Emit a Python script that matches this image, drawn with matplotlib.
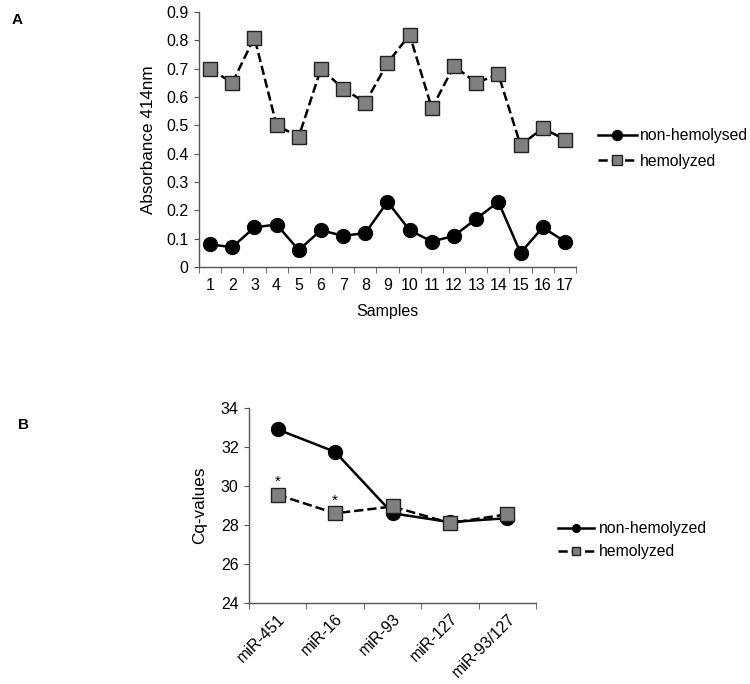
import matplotlib
matplotlib.use("Agg")
import matplotlib.pyplot as plt

plt.rcParams['font.family'] = ['Liberation Sans', 'DejaVu Sans']

samples = list(range(1, 18))
non_hemolysed = [0.08, 0.07, 0.14, 0.15, 0.06, 0.13, 0.11, 0.12, 0.23, 0.13, 0.09, 0.11, 0.17, 0.23, 0.05, 0.14, 0.09]
hemolyzed_abs = [0.70, 0.65, 0.81, 0.50, 0.46, 0.70, 0.63, 0.58, 0.72, 0.82, 0.56, 0.71, 0.65, 0.68, 0.43, 0.49, 0.45]

mirnas = ["miR-451", "miR-16", "miR-93", "miR-127", "miR-93/127"]
cq_non = [32.9, 31.75, 28.6, 28.15, 28.35]
cq_hem = [29.55, 28.6, 28.95, 28.1, 28.55]
sig_flags = [True, True, False, False, False]

fig = plt.figure(figsize=(7.5, 6.84), dpi=100)

TICK_FS = 11.5

def style_axes(ax):
    for s in ['top', 'right']:
        ax.spines[s].set_visible(False)
    for s in ['left', 'bottom']:
        ax.spines[s].set_color('#555555')
        ax.spines[s].set_linewidth(1.0)
    ax.tick_params(axis='y', direction='out', length=3.5, color='#555555', labelsize=TICK_FS, pad=4)
    ax.tick_params(axis='x', which='minor', direction='out', length=4, color='#555555')
    ax.tick_params(axis='x', which='major', length=0, labelsize=TICK_FS)

# Panel A
ax1 = fig.add_axes([0.2653, 0.6096, 0.5027, 0.3728])
x = samples
ax1.plot(x, non_hemolysed, '-', color='black', lw=1.8, marker='o', ms=10,
         mfc='black', mec='black', label='non-hemolysed')
ax1.plot(x, hemolyzed_abs, '--', color='black', lw=1.8, marker='s', ms=10,
         mfc='#808080', mec='#222222', mew=1.0, label='hemolyzed')
ax1.set_xlim(0.5, 17.5)
ax1.set_ylim(0, 0.9)
ax1.set_yticks([0, 0.1, 0.2, 0.3, 0.4, 0.5, 0.6, 0.7, 0.8, 0.9])
ax1.set_yticklabels(['0', '0.1', '0.2', '0.3', '0.4', '0.5', '0.6', '0.7', '0.8', '0.9'])
ax1.set_xticks(x)
ax1.set_xticklabels([str(v) for v in x])
ax1.set_xticks([v + 0.5 for v in range(0, 18)], minor=True)
style_axes(ax1)
ax1.tick_params(axis='x', which='major', pad=8)
ax1.set_xlabel('Samples', fontsize=11.5, labelpad=8)
ax1.set_ylabel('Absorbance 414nm', fontsize=12.3, labelpad=7)
ax1.legend(loc='center left', bbox_to_anchor=(0.797, 0.783), bbox_transform=fig.transFigure,
           frameon=False, fontsize=11.3, handlelength=2.5, handletextpad=0.2,
           borderaxespad=0, borderpad=0, labelspacing=0.65, markerscale=0.72)
fig.text(0.016, 0.971, 'A', fontsize=11, fontweight='bold', va='center')

# Panel B
ax2 = fig.add_axes([0.332, 0.1184, 0.3827, 0.2851])
xb = list(range(len(mirnas)))
ax2.plot(xb, cq_non, '-', color='black', lw=1.8, marker='o', ms=10,
         mfc='black', mec='black', label='non-hemolyzed')
ax2.plot(xb, cq_hem, '--', color='black', lw=1.8, marker='s', ms=10,
         mfc='#808080', mec='#222222', mew=1.0, label='hemolyzed')
for xi, yv, f in zip(xb, cq_hem, sig_flags):
    if f:
        ax2.annotate('*', (xi, yv), xytext=(0, 4), textcoords='offset points',
                     ha='center', va='bottom', fontsize=11)
ax2.set_xlim(-0.5, len(mirnas) - 0.5)
ax2.set_ylim(24, 34)
ax2.set_yticks([24, 26, 28, 30, 32, 34])
ax2.set_xticks(xb)
ax2.set_xticklabels(mirnas, rotation=45, ha='right', rotation_mode='anchor')
ax2.set_xticks([v - 0.5 for v in range(len(mirnas) + 1)], minor=True)
style_axes(ax2)
ax2.tick_params(axis='x', which='major', pad=6)
ax2.set_ylabel('Cq-values', fontsize=12.3, labelpad=10)
ax2.legend(loc='center left', bbox_to_anchor=(0.744, 0.210), bbox_transform=fig.transFigure,
           frameon=False, fontsize=11.3, handlelength=2.3, handletextpad=0.3,
           borderaxespad=0, borderpad=0, labelspacing=0.5, markerscale=0.55)
fig.text(0.024, 0.379, 'B', fontsize=11, fontweight='bold', va='center')

fig.savefig('out.png', dpi=100)
